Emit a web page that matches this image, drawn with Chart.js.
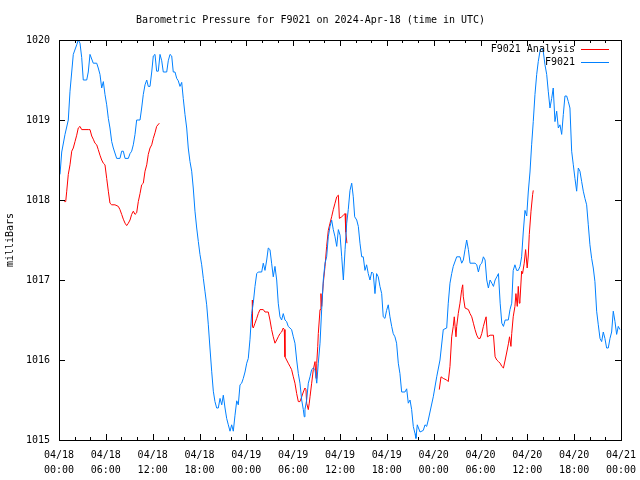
<!DOCTYPE html>
<html>
<head>
<meta charset="utf-8">
<script src="https://cdn.jsdelivr.net/npm/chart.js@4.4.1/dist/chart.umd.min.js"></script>
<style>
  html, body { margin: 0; padding: 0; background: #fff; }
  #wrap { width: 640px; height: 480px; }
</style>
</head>
<body>
<div id="wrap"><canvas id="pressureChart" width="640" height="480"></canvas></div>
<script>
// hours since 2024-04-18 00:00 UTC
const xTickStep = 6;
const yTicks = [1015, 1016, 1017, 1018, 1019, 1020];

// F9021 station (blue)
const stationHours = [0.13,0.35,0.77,1.19,1.41,1.83,2.27,2.47,2.69,2.91,3.11,3.55,3.75,3.97,4.39,4.83,5.03,5.25,5.47,5.68,5.89,6.11,6.32,6.53,6.75,6.96,7.39,7.81,8.03,8.24,8.46,8.88,9.10,9.31,9.52,9.74,9.95,10.38,10.59,10.80,11.02,11.24,11.44,11.66,11.88,12.08,12.30,12.51,12.72,12.94,13.16,13.36,13.80,14.00,14.22,14.44,14.64,14.86,15.08,15.28,15.50,15.72,15.92,16.14,16.36,16.56,16.78,17.00,17.20,17.42,17.64,17.85,18.06,18.28,18.49,18.70,18.92,19.13,19.34,19.56,19.77,19.98,20.20,20.41,20.63,20.85,21.05,21.27,21.48,21.69,21.91,22.12,22.33,22.55,22.77,22.97,23.19,23.40,23.61,23.83,24.05,24.25,24.47,24.68,24.89,25.11,25.33,25.53,25.97,26.17,26.39,26.61,26.81,27.03,27.24,27.45,27.67,27.89,28.09,28.31,28.52,28.73,28.95,29.16,29.37,29.80,30.02,30.23,30.45,30.66,30.87,31.09,31.30,31.42,31.51,31.73,31.94,32.16,32.37,32.58,32.80,33.02,33.22,33.44,33.65,33.86,34.08,34.29,34.50,34.72,34.93,35.14,35.36,35.58,35.79,36.01,36.22,36.43,36.65,36.86,37.06,37.28,37.50,37.70,37.88,38.14,38.35,38.56,38.78,38.98,39.20,39.41,39.62,39.84,40.06,40.26,40.48,40.69,40.90,41.12,41.34,41.54,41.76,41.97,42.18,42.40,42.62,42.82,43.04,43.25,43.47,43.68,43.90,44.32,44.54,44.75,44.97,45.18,45.39,45.61,45.73,45.90,46.25,46.67,46.89,47.10,47.31,47.53,47.95,48.39,48.81,49.23,49.67,49.87,50.09,50.31,50.51,50.95,51.37,51.59,51.80,52.02,52.23,52.45,52.66,53.30,53.52,53.73,53.95,54.16,54.37,54.59,54.80,55.01,55.23,55.45,55.66,55.87,56.09,56.30,56.52,56.73,56.94,57.16,57.56,57.78,58.00,58.19,58.41,58.63,58.84,59.06,59.27,59.48,59.70,59.92,60.12,60.34,60.55,60.76,60.98,61.20,61.40,61.62,61.84,62.04,62.26,62.48,62.68,62.90,63.12,63.32,63.54,63.76,63.97,64.18,64.40,64.61,64.82,65.04,65.25,65.46,65.68,65.89,66.10,66.32,66.53,66.74,66.96,67.17,67.38,67.60,67.81,68.02,68.24,68.45,68.66,68.88,69.09,69.31,69.52,69.73,69.94,70.16,70.37,70.59,70.80,71.01,71.23,71.44,71.65,71.87];
const stationPressure = [1018.32,1018.6,1018.82,1019.0,1019.36,1019.82,1019.94,1020.0,1019.96,1019.78,1019.5,1019.5,1019.6,1019.82,1019.71,1019.71,1019.65,1019.57,1019.4,1019.48,1019.32,1019.19,1019.02,1018.9,1018.73,1018.65,1018.52,1018.52,1018.61,1018.61,1018.52,1018.52,1018.58,1018.61,1018.69,1018.82,1019.0,1019.0,1019.15,1019.32,1019.44,1019.5,1019.42,1019.42,1019.6,1019.8,1019.82,1019.61,1019.61,1019.82,1019.74,1019.6,1019.6,1019.74,1019.82,1019.8,1019.6,1019.6,1019.52,1019.49,1019.42,1019.47,1019.27,1019.07,1018.9,1018.65,1018.48,1018.36,1018.15,1017.86,1017.65,1017.48,1017.32,1017.19,1017.02,1016.86,1016.69,1016.44,1016.15,1015.86,1015.61,1015.48,1015.4,1015.4,1015.52,1015.44,1015.56,1015.4,1015.27,1015.19,1015.11,1015.19,1015.11,1015.31,1015.49,1015.44,1015.69,1015.71,1015.77,1015.85,1015.96,1016.02,1016.26,1016.58,1016.71,1016.92,1017.08,1017.1,1017.1,1017.21,1017.12,1017.25,1017.4,1017.38,1017.21,1017.04,1017.17,1017.0,1016.71,1016.54,1016.5,1016.58,1016.5,1016.48,1016.42,1016.38,1016.29,1016.21,1016.0,1015.83,1015.71,1015.5,1015.38,1015.29,1015.38,1015.5,1015.71,1015.79,1015.88,1015.9,1015.88,1015.71,1015.96,1016.21,1016.63,1017.0,1017.21,1017.29,1017.54,1017.67,1017.75,1017.63,1017.54,1017.42,1017.63,1017.56,1017.29,1017.0,1017.38,1017.71,1017.88,1018.12,1018.21,1018.04,1017.79,1017.75,1017.67,1017.46,1017.29,1017.29,1017.12,1017.19,1017.08,1017.0,1017.1,1017.08,1016.83,1017.08,1017.04,1016.92,1016.83,1016.54,1016.52,1016.62,1016.69,1016.54,1016.42,1016.33,1016.29,1016.21,1015.96,1015.83,1015.6,1015.6,1015.64,1015.46,1015.5,1015.38,1015.17,1015.08,1015.02,1015.19,1015.1,1015.12,1015.19,1015.17,1015.25,1015.35,1015.54,1015.79,1016.0,1016.38,1016.4,1016.71,1016.96,1017.08,1017.17,1017.29,1017.29,1017.21,1017.25,1017.38,1017.5,1017.38,1017.21,1017.21,1017.19,1017.1,1017.19,1017.21,1017.29,1017.25,1017.0,1016.9,1017.0,1016.96,1016.92,1017.0,1017.04,1017.08,1016.71,1016.46,1016.42,1016.5,1016.5,1016.63,1016.71,1017.12,1017.19,1017.12,1017.12,1017.17,1017.29,1017.6,1017.87,1017.8,1018.1,1018.35,1018.69,1018.98,1019.32,1019.57,1019.73,1019.86,1019.9,1019.86,1019.69,1019.57,1019.36,1019.15,1019.27,1019.4,1018.98,1019.11,1018.9,1018.94,1018.82,1019.07,1019.3,1019.3,1019.23,1019.15,1018.61,1018.44,1018.27,1018.11,1018.4,1018.36,1018.23,1018.11,1018.02,1017.94,1017.69,1017.44,1017.27,1017.15,1016.98,1016.61,1016.44,1016.27,1016.23,1016.35,1016.27,1016.15,1016.15,1016.27,1016.35,1016.61,1016.48,1016.32,1016.42,1016.38];

// F9021 Analysis (red), three 12 h runs; null = gap
const analysisHours = [0.68,0.86,0.99,1.19,1.41,1.63,1.83,2.05,2.27,2.47,2.69,2.91,3.75,3.97,4.19,4.39,4.61,4.83,5.03,5.25,5.47,5.68,5.89,6.11,6.32,6.53,6.75,7.17,7.60,7.81,8.03,8.24,8.46,8.67,8.88,9.10,9.31,9.52,9.74,9.95,10.16,10.38,10.59,10.80,11.02,11.24,11.44,11.66,11.88,12.08,12.30,12.51,12.85,
  18,
  24.76,24.79,24.89,25.11,25.33,25.53,25.75,26.17,26.39,26.81,27.03,27.24,27.45,27.67,27.89,28.09,28.31,28.52,28.73,28.86,28.95,29.16,29.37,29.59,29.80,30.02,30.23,30.45,30.66,30.87,31.09,31.30,31.51,31.64,31.73,31.94,32.06,32.16,32.37,32.58,32.80,32.93,33.02,33.15,33.22,33.44,33.56,33.65,33.78,33.86,34.08,34.29,34.50,34.72,34.93,35.14,35.36,35.58,35.79,35.92,36.22,36.43,36.65,36.74,36.89,
  42,
  48.72,48.94,49.23,49.67,49.87,50.09,50.31,50.51,50.64,50.86,50.95,51.15,51.37,51.59,51.72,51.80,52.02,52.45,52.66,52.88,53.09,53.30,53.52,53.73,53.95,54.16,54.37,54.59,54.72,54.89,55.23,55.66,55.87,56.09,56.30,56.52,56.73,56.94,57.16,57.37,57.59,57.72,57.90,58.00,58.19,58.41,58.54,58.71,58.84,58.97,59.06,59.27,59.39,59.60,59.78,59.98,60.12,60.25,60.47,60.68,60.76];
const analysisPressure = [1017.98,1017.98,1018.11,1018.32,1018.44,1018.61,1018.65,1018.73,1018.81,1018.9,1018.92,1018.88,1018.88,1018.88,1018.8,1018.76,1018.71,1018.69,1018.63,1018.56,1018.5,1018.46,1018.44,1018.27,1018.11,1017.96,1017.94,1017.94,1017.92,1017.88,1017.82,1017.76,1017.71,1017.68,1017.71,1017.75,1017.82,1017.86,1017.82,1017.84,1017.98,1018.08,1018.19,1018.21,1018.36,1018.44,1018.57,1018.65,1018.69,1018.77,1018.84,1018.92,1018.96,
  null,
  1016.75,1016.42,1016.4,1016.46,1016.52,1016.58,1016.63,1016.63,1016.6,1016.6,1016.5,1016.38,1016.29,1016.21,1016.25,1016.29,1016.33,1016.35,1016.4,1016.38,1016.04,1016.0,1015.96,1015.92,1015.88,1015.79,1015.71,1015.58,1015.48,1015.48,1015.54,1015.6,1015.65,1015.63,1015.46,1015.38,1015.46,1015.54,1015.71,1015.88,1015.98,1015.77,1015.96,1016.17,1016.33,1016.63,1016.83,1016.67,1016.85,1016.96,1017.17,1017.42,1017.62,1017.71,1017.79,1017.88,1017.96,1018.04,1018.06,1017.77,1017.79,1017.81,1017.83,1017.6,1017.46,
  null,
  1015.63,1015.79,1015.77,1015.75,1015.73,1015.92,1016.29,1016.42,1016.54,1016.29,1016.42,1016.58,1016.71,1016.88,1016.94,1016.79,1016.65,1016.63,1016.58,1016.54,1016.46,1016.38,1016.31,1016.27,1016.27,1016.33,1016.42,1016.5,1016.54,1016.29,1016.31,1016.31,1016.04,1016.0,1015.98,1015.96,1015.92,1015.9,1016.0,1016.1,1016.21,1016.29,1016.17,1016.33,1016.54,1016.67,1016.83,1016.67,1016.92,1016.71,1016.75,1017.11,1017.08,1017.21,1017.38,1017.15,1017.3,1017.57,1017.86,1018.07,1018.12];

const FONT = "'DejaVu Sans Mono', 'Liberation Mono', monospace";
const RED = '#ff0000';
const BLUE = '#0080ff';

function toPoints(xs, ys) {
  return xs.map((h, i) => ({ x: h, y: ys[i] }));
}

function hourLabel(h) {
  const day = 18 + Math.floor(h / 24);
  const hh = h % 24;
  return ['04/' + day, String(hh).padStart(2, '0') + ':00'];
}

// gnuplot style frame, inward ticks on all four sides, and the key
const gnuFrame = {
  id: 'gnuFrame',
  afterDraw(chart) {
    const { ctx, chartArea: a, scales } = chart;
    ctx.save();
    ctx.strokeStyle = '#000';
    ctx.lineWidth = 1;
    ctx.beginPath();
    for (let h = 0; h <= 72; h += 2) {
      const x = Math.round(scales.x.getPixelForValue(h)) + 0.5;
      const len = h % 6 === 0 ? 6 : 3;
      ctx.moveTo(x, a.bottom); ctx.lineTo(x, a.bottom - len);
      ctx.moveTo(x, a.top); ctx.lineTo(x, a.top + len);
    }
    yTicks.forEach(v => {
      const y = Math.round(scales.y.getPixelForValue(v)) + 0.5;
      ctx.moveTo(a.left, y); ctx.lineTo(a.left + 6, y);
      ctx.moveTo(a.right, y); ctx.lineTo(a.right - 6, y);
    });
    ctx.stroke();
    ctx.strokeRect(Math.round(a.left) + 0.5, Math.round(a.top) + 0.5,
      Math.round(a.right - a.left), Math.round(a.bottom - a.top));

    // key, top right inside the plot
    ctx.font = '10px ' + FONT;
    ctx.textAlign = 'right';
    ctx.textBaseline = 'middle';
    const keyRows = [chart.data.datasets[0], chart.data.datasets[1]];
    keyRows.forEach((ds, i) => {
      const y = 49 + i * 13;
      ctx.fillStyle = '#000';
      ctx.fillText(ds.label, 575, y);
      ctx.strokeStyle = ds.borderColor;
      ctx.beginPath();
      ctx.moveTo(581, y + 0.5); ctx.lineTo(609, y + 0.5);
      ctx.stroke();
    });
    ctx.restore();
  }
};

const chart = new Chart(document.getElementById('pressureChart'), {
  type: 'line',
  data: {
    datasets: [
      {
        label: 'F9021 Analysis',
        data: toPoints(analysisHours, analysisPressure),
        borderColor: RED,
        borderWidth: 1,
        pointRadius: 0,
        spanGaps: false,
        tension: 0,
        order: 1
      },
      {
        label: 'F9021',
        data: toPoints(stationHours, stationPressure),
        borderColor: BLUE,
        borderWidth: 1,
        pointRadius: 0,
        tension: 0,
        order: 0
      }
    ]
  },
  options: {
    responsive: false,
    animation: false,
    layout: { padding: { left: 0, right: 19, top: 0, bottom: 0 } },
    plugins: {
      legend: { display: false },
      tooltip: { enabled: false },
      title: {
        display: true,
        text: 'Barometric Pressure for F9021 on 2024-Apr-18 (time in UTC)',
        color: '#000',
        font: { family: FONT, size: 10, weight: 'normal', lineHeight: 1.2 },
        padding: { top: 14, bottom: 14 }
      }
    },
    scales: {
      x: {
        type: 'linear',
        min: 0,
        max: 72,
        grid: { display: false },
        border: { display: false },
        afterFit(scale) { scale.height = 40; },
        ticks: {
          stepSize: xTickStep,
          autoSkip: false,
          maxRotation: 0,
          padding: 0,
          color: '#000',
          font: { family: FONT, size: 10, lineHeight: 1.5 },
          callback: v => hourLabel(v)
        }
      },
      y: {
        min: 1015,
        max: 1020,
        grid: { display: false },
        border: { display: false },
        afterFit(scale) { scale.width = 59; },
        title: {
          display: true,
          text: 'milliBars',
          color: '#000',
          font: { family: FONT, size: 10, lineHeight: 1.2 },
          padding: { top: 4, bottom: 0 }
        },
        ticks: {
          stepSize: 1,
          padding: 1,
          color: '#000',
          font: { family: FONT, size: 10 },
          callback: v => String(v)
        }
      }
    }
  },
  plugins: [gnuFrame]
});
</script>
</body>
</html>
